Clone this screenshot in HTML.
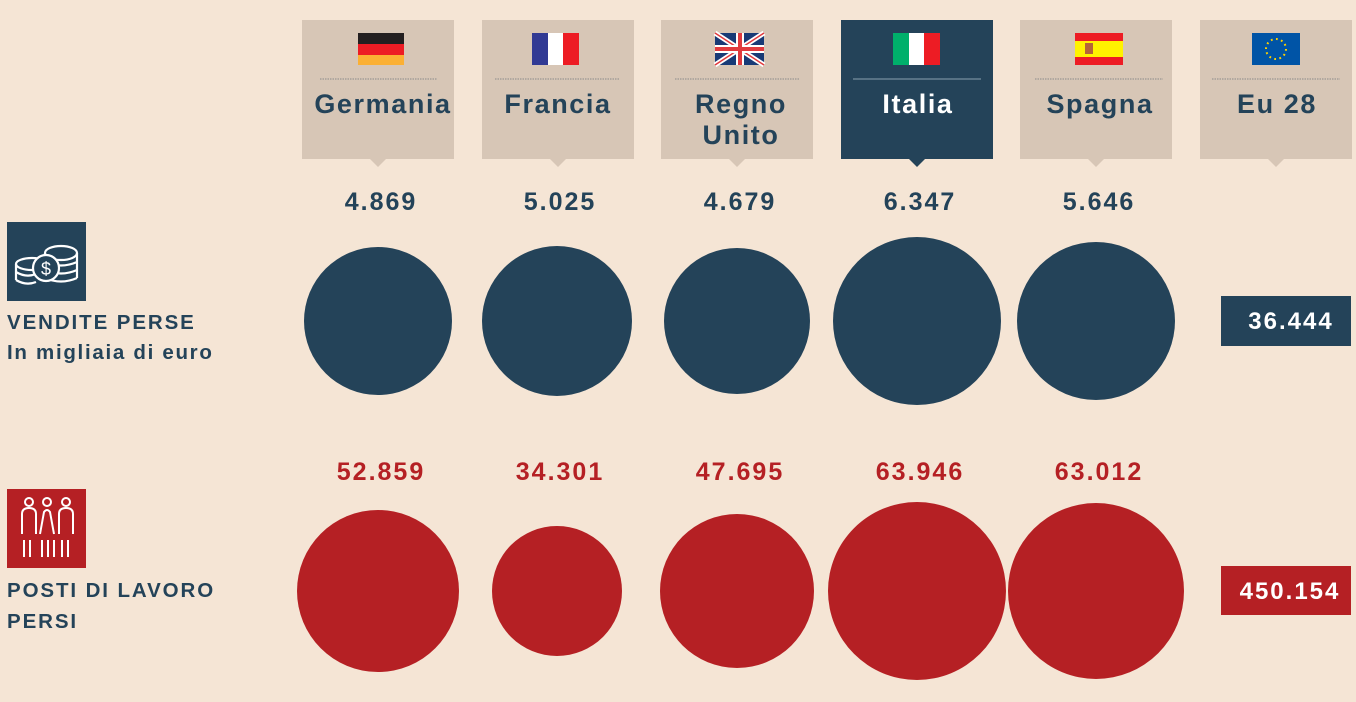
<!DOCTYPE html>
<html><head><meta charset="utf-8"><style>
html,body{margin:0;padding:0;background:#f5e5d5;}
svg{display:block;font-family:"Liberation Sans","DejaVu Sans",sans-serif;font-weight:bold;}
</style></head><body>
<svg width="1356" height="702" viewBox="0 0 1356 702" xmlns="http://www.w3.org/2000/svg">
<rect width="1356" height="702" fill="#f5e5d5"/>
<g fill="#d7c6b6">
<rect x="302" y="20" width="152" height="139"/><polygon points="370,159 386,159 378,167"/>
<rect x="482" y="20" width="152" height="139"/><polygon points="550,159 566,159 558,167"/>
<rect x="661" y="20" width="152" height="139"/><polygon points="729,159 745,159 737,167"/>
<rect x="1020" y="20" width="152" height="139"/><polygon points="1088,159 1104,159 1096,167"/>
<rect x="1200" y="20" width="152" height="139"/><polygon points="1268,159 1284,159 1276,167"/>
</g>
<rect x="841" y="20" width="152" height="139" fill="#244359"/><polygon points="909,159 925,159 917,167" fill="#244359"/>
<g stroke="#8a8a8a" stroke-width="1" stroke-dasharray="1.5 1">
<line x1="320" y1="79" x2="437" y2="79"/>
<line x1="495" y1="79" x2="619" y2="79"/>
<line x1="675" y1="79" x2="800" y2="79"/>
<line x1="1035" y1="79" x2="1163" y2="79"/>
<line x1="1212" y1="79" x2="1340" y2="79"/>
</g>
<line x1="853" y1="79" x2="981" y2="79" stroke="#8aa0b0" stroke-width="1"/>
<rect x="358" y="33" width="46" height="11" fill="#231f20"/><rect x="358" y="44" width="46" height="11" fill="#ed1c24"/><rect x="358" y="55" width="46" height="10" fill="#fbb034"/>
<rect x="532" y="33" width="16" height="32" fill="#313a94"/><rect x="548" y="33" width="15" height="32" fill="#fff"/><rect x="563" y="33" width="16" height="32" fill="#ed1c24"/>
<g><rect x="715" y="33" width="49" height="32" fill="#183a76"/>
<line x1="715" y1="33" x2="764" y2="65" stroke="#fff" stroke-width="5"/><line x1="764" y1="33" x2="715" y2="65" stroke="#fff" stroke-width="5"/>
<line x1="715" y1="33" x2="764" y2="65" stroke="#e13a3e" stroke-width="1.5"/><line x1="764" y1="33" x2="715" y2="65" stroke="#e13a3e" stroke-width="1.5"/>
<rect x="736" y="33" width="8" height="32" fill="#fff"/><rect x="715" y="45" width="49" height="8" fill="#fff"/>
<rect x="738" y="33" width="4" height="32" fill="#e13a3e"/><rect x="715" y="47" width="49" height="4" fill="#e13a3e"/></g>
<rect x="893" y="33" width="16" height="32" fill="#00b06b"/><rect x="909" y="33" width="15" height="32" fill="#fff"/><rect x="924" y="33" width="16" height="32" fill="#ed1c24"/>
<rect x="1075" y="33" width="48" height="32" fill="#ed1c24"/><rect x="1075" y="41" width="48" height="16" fill="#fff200"/><rect x="1085" y="43" width="8" height="11" fill="#b5643a"/>
<rect x="1252" y="33" width="48" height="32" fill="#0054a6"/>
<circle cx="1276" cy="49" r="10" fill="none" stroke="#ffd200" stroke-width="2" stroke-dasharray="1.8 3.4"/>
<g font-size="27" fill="#244359" text-anchor="middle" letter-spacing="1.6">
<text x="383" y="113">Germania</text>
<text x="558" y="113">Francia</text>
<text x="741" y="113">Regno</text>
<text x="741" y="144">Unito</text>
<text x="918" y="113" fill="#fff">Italia</text>
<text x="1100" y="113">Spagna</text>
<text x="1277" y="113">Eu 28</text>
</g>
<g font-size="25" fill="#244359" text-anchor="middle" letter-spacing="2">
<text x="381" y="210">4.869</text><text x="560" y="210">5.025</text><text x="740" y="210">4.679</text><text x="920" y="210">6.347</text><text x="1099" y="210">5.646</text>
</g>
<g font-size="25" fill="#b52024" text-anchor="middle" letter-spacing="2">
<text x="381" y="480">52.859</text><text x="560" y="480">34.301</text><text x="740" y="480">47.695</text><text x="920" y="480">63.946</text><text x="1099" y="480">63.012</text>
</g>
<g fill="#244359">
<circle cx="378" cy="321" r="74"/><circle cx="557" cy="321" r="75"/><circle cx="737" cy="321" r="73"/><circle cx="917" cy="321" r="84"/><circle cx="1096" cy="321" r="79"/>
</g>
<g fill="#b52024">
<circle cx="378" cy="591" r="81"/><circle cx="557" cy="591" r="65"/><circle cx="737" cy="591" r="77"/><circle cx="917" cy="591" r="89"/><circle cx="1096" cy="591" r="88"/>
</g>
<rect x="1221" y="296" width="130" height="50" fill="#244359"/>
<text x="1291" y="329" font-size="24" fill="#fff" text-anchor="middle" letter-spacing="2">36.444</text>
<rect x="1221" y="566" width="130" height="49" fill="#b52024"/>
<text x="1290" y="599" font-size="24" fill="#fff" text-anchor="middle" letter-spacing="2">450.154</text>
<rect x="7" y="222" width="79" height="79" fill="#244359"/>
<g fill="none" stroke="#fff" stroke-width="2.2">
<ellipse cx="61" cy="253" rx="16" ry="7"/>
<path d="M45 253 v25 M77 253 v25 M45 262 q16 7 32 0 M45 270 q16 7 32 0 M45 278 q16 7 32 0"/>
<ellipse cx="32" cy="264" rx="16" ry="6"/>
<path d="M16 264 v16 M16 272 q10 6 20 2 M16 280 q10 6 20 2"/>
<circle cx="46" cy="268" r="13" fill="#244359"/>
</g>
<text x="46" y="275" font-size="18" fill="#fff" text-anchor="middle" font-weight="normal">$</text>
<rect x="7" y="489" width="79" height="79" fill="#b52024"/>
<g fill="none" stroke="#fff" stroke-width="2">
<circle cx="29" cy="502" r="4"/><circle cx="47" cy="502" r="4"/><circle cx="66" cy="502" r="4"/>
<path d="M22 534 v-20 q0-6 7-6 q7 0 7 6 v20"/>
<path d="M40 534 l4-22 q3-4 6 0 l4 22"/>
<path d="M59 534 v-20 q0-6 7-6 q7 0 7 6 v20"/>
<path d="M24 540 v17 M30 540 v17 M42 540 v17 M48 540 v17 M54 540 v17 M62 540 v17 M68 540 v17"/>
</g>
<g font-size="20.5" fill="#244359" letter-spacing="1.9">
<text x="7" y="329">VENDITE PERSE</text>
<text x="7" y="359" letter-spacing="1.7">In migliaia di euro</text>
<text x="7" y="597">POSTI DI LAVORO</text>
<text x="7" y="628">PERSI</text>
</g>
</svg>
</body></html>
